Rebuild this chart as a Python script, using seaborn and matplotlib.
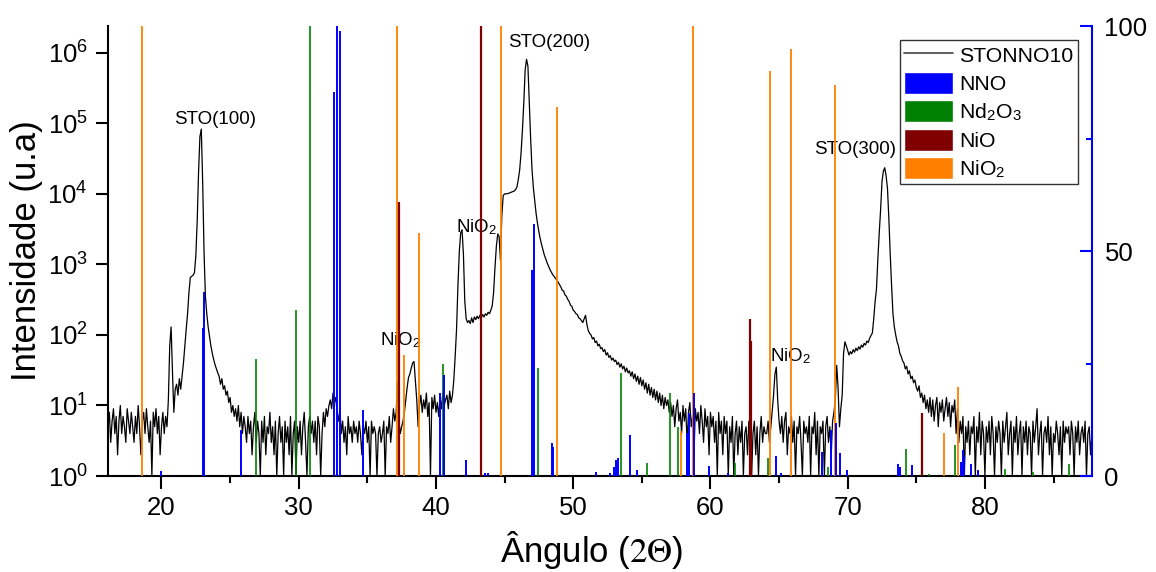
import numpy as np
import pandas as pd
import seaborn as sns
import matplotlib.pyplot as plt
from matplotlib.lines import Line2D
from matplotlib.patches import Patch
from matplotlib.ticker import MultipleLocator, LogLocator, NullLocator

# --- difratograma STONNO10 (passo de 0.1 grau a partir de 16.1) ---
scan_start = 16.1
scan_step = 0.1
intensity = [
    5, 8, 3, 6, 9, 4, 7, 2, 6, 10,
    4, 7, 5, 3, 9, 6, 4, 8, 5, 3,
    7, 4, 10, 5, 2, 6, 8, 4, 9, 5,
    3, 6, 1, 8, 5, 9, 4, 7, 2, 5,
    8, 4, 7, 5, 12, 70, 130, 30, 8, 17,
    20, 14, 24, 17, 26, 40, 70, 120, 200, 400,
    650, 680, 700, 760, 1300, 4000, 20000, 65000, 83000, 15000,
    1500, 350, 200, 130, 95, 70, 55, 45, 38, 33,
    29, 26, 20, 24, 17, 19, 14, 16, 11, 13,
    8, 10, 7, 9, 6, 10, 5, 8, 4, 7,
    5, 3, 7, 4, 6, 2, 5, 8, 3, 6,
    4, 1, 6, 3, 7, 2, 5, 4, 8, 3,
    5, 2, 6, 1, 4, 7, 3, 5, 1, 6,
    3, 5, 2, 7, 1, 4, 6, 1, 5, 3,
    6, 2, 5, 8, 3, 1, 5, 7, 4, 6,
    3, 6, 2, 7, 5, 1, 4, 8, 5, 9,
    7, 10, 12, 9, 15, 11, 13, 8, 6, 9,
    4, 6, 3, 5, 2, 7, 4, 5, 3, 6,
    4, 5, 3, 6, 4, 2, 5, 4, 6, 3,
    5, 1, 6, 4, 5, 4, 1, 4, 5, 3,
    4, 6, 1, 5, 4, 7, 3, 5, 9, 6,
    8, 21, 6, 4, 5, 6, 8, 12, 18, 25,
    28, 34, 40, 42, 22, 12, 5, 10, 14, 8,
    12, 9, 15, 7, 11, 1, 13, 9, 14, 8,
    11, 7, 13, 9, 15, 10, 12, 14, 9, 16,
    11, 14, 23, 50, 120, 500, 1500, 2800, 3100, 1400,
    300, 170, 150, 160, 145, 175, 150, 180, 165, 185,
    170, 190, 175, 195, 180, 200, 190, 210, 200, 225,
    260, 400, 900, 1800, 2700, 2500, 1150, 5000, 9500, 10000,
    10000, 10100, 10200, 10400, 10600, 10800, 11000, 11500, 12500, 16000,
    22000, 38000, 80000, 195000, 575000, 810000, 650000, 200000, 60000, 22000,
    12000, 8000, 5200, 3800, 2900, 2300, 1900, 1600, 1350, 1200,
    1050, 950, 850, 780, 720, 680, 640, 600, 560, 520,
    480, 430, 420, 370, 355, 320, 300, 265, 255, 225,
    215, 200, 195, 175, 170, 160, 150, 170, 190, 140,
    115, 105, 100, 88, 92, 78, 82, 70, 74, 64,
    66, 58, 62, 52, 56, 48, 51, 44, 47, 42,
    44, 38, 41, 35, 39, 33, 36, 30, 34, 29,
    31, 26, 30, 24, 28, 22, 26, 20, 25, 19,
    23, 17, 21, 15, 20, 14, 18, 13, 17, 12,
    16, 11, 15, 10, 14, 9, 13, 10, 12, 8,
    11, 7, 10, 5, 9, 12, 6, 8, 4, 10,
    6, 9, 3, 8, 11, 5, 7, 2, 9, 6,
    8, 4, 10, 6, 3, 9, 5, 7, 2, 8,
    5, 7, 3, 6, 1, 8, 4, 6, 2, 7,
    4, 6, 1, 5, 3, 7, 1, 4, 6, 2,
    5, 3, 6, 1, 4, 5, 2, 6, 3, 1,
    4, 6, 2, 5, 1, 4, 7, 3, 5, 4,
    4, 6, 3, 5, 8, 14, 28, 35, 12, 6,
    4, 7, 3, 6, 8, 2, 5, 4, 7, 3,
    6, 1, 5, 4, 7, 3, 1, 6, 4, 5,
    3, 7, 1, 5, 4, 8, 2, 6, 1, 5,
    4, 6, 1, 5, 7, 3, 5, 2, 6, 8,
    12, 37, 18, 5, 9, 14, 55, 80, 70, 60,
    52, 58, 54, 62, 57, 65, 60, 68, 63, 72,
    67, 76, 72, 82, 78, 90, 98, 107, 170, 300,
    450, 1200, 2800, 6000, 15000, 21000, 23500, 18000, 12000, 4500,
    1400, 500, 200, 130, 100, 80, 70, 55, 50, 43,
    40, 33, 36, 28, 31, 24, 26, 21, 23, 18,
    16, 19, 13, 15, 11, 14, 9, 12, 8, 13,
    7, 12, 6, 10, 13, 5, 11, 8, 12, 6,
    9, 13, 7, 11, 5, 10, 8, 12, 4, 9,
    3, 6, 4, 7, 1, 5, 3, 6, 2, 5,
    4, 7, 1, 5, 3, 8, 2, 6, 4, 1,
    5, 3, 6, 2, 7, 4, 1, 5, 3, 6,
    4, 1, 6, 3, 5, 8, 2, 4, 6, 1,
    5, 3, 7, 2, 4, 6, 1, 5, 3, 6,
    2, 5, 4, 1, 6, 3, 5, 9, 2, 4,
    6, 1, 4, 5, 3, 7, 2, 5, 1, 4,
    3, 6, 4, 2, 5, 1, 6, 3, 5, 4,
    5, 2, 6, 4, 1, 5, 3, 6, 2, 4,
    5, 3, 6, 1, 4, 5, 2, 4,
]
angle = np.round(scan_start + scan_step * np.arange(len(intensity)), 2)

# --- fichas de referencia (intensidade relativa, %) ---
nno_pos = [20.0, 23.05, 23.1, 25.8, 32.55, 32.8, 33.0, 34.66, 40.3, 40.58,
           42.22, 43.6, 43.8, 47.0, 47.14, 48.47, 48.53, 51.68, 52.7, 53.0,
           53.1, 53.24, 54.13, 54.66, 58.29, 58.45, 58.77, 59.87, 61.3, 64.77,
           65.16, 68.15, 68.75, 69.14, 69.45, 69.94, 73.66, 73.78, 74.67, 78.27,
           78.39, 78.49, 78.97, 79.5]
nno_int = [1.2, 33, 41, 10.2, 85.4, 100, 99, 14.6, 18.5, 22.4,
           3.6, 0.7, 0.7, 45.8, 56, 7.4, 6.5, 0.8, 0.6, 2.0,
           3.6, 3.9, 9.1, 1.3, 9.5, 14, 18.4, 2.3, 0.6, 4.5,
           0.7, 5.4, 10.2, 11.8, 5.1, 1.3, 2.7, 2.1, 2.4, 3.2,
           5.8, 4.4, 2.7, 1.3]

nd2o3_pos = [26.9, 29.78, 30.8, 40.5, 47.46, 53.46, 55.38, 57.03, 57.62, 61.8,
             64.16, 68.6, 74.26, 75.9, 77.8, 81.47, 83.5, 86.16]
nd2o3_int = [25.9, 36.9, 100, 24.9, 24, 22.8, 2.9, 18.5, 11, 3.0,
             3.9, 1.9, 5.9, 0.5, 6.9, 1.5, 1.0, 2.7]

nio_pos = [37.29, 43.28, 62.88, 62.92, 75.45]
nio_int = [61, 100, 34.9, 30, 13.9]

nio2_pos = [18.59, 37.14, 37.68, 38.77, 44.72, 48.83, 57.87, 58.7, 64.33, 65.84,
            69.04, 77.0, 78.07]
nio2_int = [100, 100, 26.9, 54, 100, 81.9, 10, 100, 90, 94.9,
            86.9, 9.5, 19.8]

# rotulos dos picos: (texto, angulo, intensidade da linha de base)
peak_labels = ["STO(100)", "STO(200)", "NiO$_{\\mathregular{2}}$", "NiO$_{\\mathregular{2}}$",
               "NiO$_{\\mathregular{2}}$", "STO(300)"]
peak_label_x = [23.93, 48.24, 37.43, 42.96, 65.85, 70.52]
peak_label_y = [98000, 1.23e6, 72, 2830, 43, 37000]

sns.set_theme(style="ticks")
plt.rcParams["font.family"] = ["Liberation Sans", "DejaVu Sans"]
plt.rcParams["mathtext.fontset"] = "stix"
for key in ["text.color", "axes.labelcolor", "xtick.color", "ytick.color",
            "xtick.labelcolor", "ytick.labelcolor"]:
    plt.rcParams[key] = "black"

fig = plt.figure(figsize=(11.56, 5.72), dpi=100)
ax = fig.add_axes([0.0934, 0.1678, 0.8512, 0.7867])

df = pd.DataFrame({"angulo": angle, "intensidade": intensity})
sns.lineplot(data=df, x="angulo", y="intensidade", ax=ax, color="black",
             linewidth=0.9, estimator=None)
ax.set_yscale("log")
ax.set_ylim(1, 2.4e6)
ax.set_xlim(16.1, 87.8)

ax.xaxis.set_major_locator(MultipleLocator(10))
ax.xaxis.set_minor_locator(MultipleLocator(5))
ax.yaxis.set_major_locator(LogLocator(base=10, numticks=10))
ax.yaxis.set_minor_locator(NullLocator())
ax.tick_params(which="major", direction="out", length=9, width=1.5,
               labelsize=18.5, pad=5.5, color="black", labelcolor="black")
ax.tick_params(which="minor", direction="out", length=5, width=1.5, color="black")
for s in ["top", "right"]:
    ax.spines[s].set_visible(False)
for s in ["left", "bottom"]:
    ax.spines[s].set_linewidth(1.5)
    ax.spines[s].set_color("black")

ax.set_xlabel("Ângulo ($2\\Theta$)", fontsize=25, color="black")
ax.set_ylabel("Intensidade (u.a)", fontsize=25, color="black")
ax.xaxis.set_label_coords(0.492, -0.118)
ax.yaxis.set_label_coords(-0.066, 0.5)

for txt, tx, ty in zip(peak_labels, peak_label_x, peak_label_y):
    ax.text(tx, ty, txt, fontsize=13.5, ha="center", va="baseline", color="black")

# eixo direito com as fichas
ax2 = ax.twinx()
ax2.set_ylim(0, 100)
ax2.vlines(nio2_pos, 0, nio2_int, colors="#FF8000", linewidth=1.3)
ax2.vlines(nd2o3_pos, 0, nd2o3_int, colors="#008000", linewidth=1.2)
ax2.vlines(nio_pos, 0, nio_int, colors="#800000", linewidth=1.6)
ax2.vlines(nno_pos, 0, nno_int, colors="#0000FF", linewidth=1.4)
ax2.yaxis.set_major_locator(MultipleLocator(50))
ax2.yaxis.set_minor_locator(MultipleLocator(25))
ax2.tick_params(axis="y", which="major", direction="in", length=8.5, width=1.5,
                color="blue", labelcolor="black", labelsize=18.5, pad=9)
ax2.tick_params(axis="y", which="minor", direction="in", length=4.3, width=1.5,
                color="blue")
for s in ["top", "left", "bottom"]:
    ax2.spines[s].set_visible(False)
ax2.spines["right"].set_color("blue")
ax2.spines["right"].set_linewidth(1.5)
ax2.set_ylabel("")

handles = [
    Line2D([0], [0], color="#444444", linewidth=1.2, label="STONNO10"),
    Patch(facecolor="#0000FF", edgecolor="white", label="NNO"),
    Patch(facecolor="#008000", edgecolor="white", label="Nd$_{\\mathregular{2}}$O$_{\\mathregular{3}}$"),
    Patch(facecolor="#800000", edgecolor="white", label="NiO"),
    Patch(facecolor="#FF8000", edgecolor="white", label="NiO$_{\\mathregular{2}}$"),
]
leg = ax2.legend(handles=handles, loc="upper left", bbox_to_anchor=(0.7785, 0.930),
                 bbox_transform=fig.transFigure, fontsize=15.3, frameon=True,
                 fancybox=False, framealpha=1, edgecolor="#333333",
                 borderpad=0.2, labelspacing=0.28, handlelength=2.3,
                 handleheight=1.2, handletextpad=0.3, borderaxespad=0)
leg.get_frame().set_linewidth(1.0)
for t in leg.get_texts():
    t.set_color("black")

fig.savefig("out.png", dpi=100)
plt.close(fig)
